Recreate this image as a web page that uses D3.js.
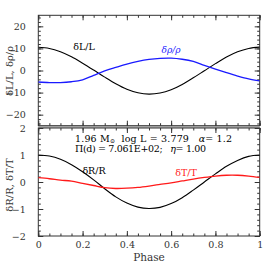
<!DOCTYPE html>
<html><head><meta charset="utf-8">
<script src="https://cdn.jsdelivr.net/npm/d3@7"></script>
<style>
html,body{margin:0;padding:0;background:#fff;}
svg text{font-family:"DejaVu Serif","Liberation Serif",serif;}
</style></head>
<body><div id="chart"></div>
<script>
// ---- data ----
const phase = [0,0.05,0.1,0.15,0.2,0.25,0.3,0.35,0.4,0.45,0.5,0.55,0.6,0.65,0.7,0.75,0.8,0.85,0.9,0.95,1];
const dL  = [10.5,10.0,8.5,6.2,3.3,0.2,-3.0,-6.0,-8.5,-10.1,-10.7,-10.2,-8.7,-6.3,-3.3,-0.1,3.1,6.1,8.5,10.0,10.6];
const dRho= [-5.2,-5.45,-5.5,-5.1,-4.2,-2.2,-0.2,1.4,2.9,4.1,5.0,5.5,5.6,5.1,4.1,2.3,0.6,-1.0,-2.5,-3.8,-4.7];
const dR  = [1.0,0.96,0.84,0.64,0.38,0.08,-0.25,-0.55,-0.78,-0.93,-0.98,-0.94,-0.8,-0.58,-0.3,0.0,0.3,0.58,0.8,0.95,1.0];
const dT  = [0.16,0.12,0.07,0.03,-0.05,-0.13,-0.21,-0.24,-0.23,-0.2,-0.15,-0.09,-0.03,0.04,0.11,0.17,0.22,0.25,0.25,0.22,0.17];
const xTicks = [0,0.2,0.4,0.6,0.8,1];
const xTickLabels = ["0","0.2","0.4","0.6","0.8","1"];
const topTicks = [-20,-10,0,10,20];
const botTicks = [-2,-1,0,1,2];
const infoLine1 = ["1.96 M","⊙","  log L = 3.779   ","α","= 1.2"];
const infoLine2 = ["Π(d) = 7.061E+02;   ","η","= 1.00"];

const W=274,H=274;
const svg=d3.select("#chart").append("svg").attr("width",W).attr("height",H);
const x=d3.scaleLinear().domain([0,1]).range([38.3,259.7]);
const yT=d3.scaleLinear().domain([-25,25]).range([125.7,15.3]);
const yB=d3.scaleLinear().domain([-2,2]).range([236,128]);
const axisColor="#333";
const FS=9.5;

function panel(y, major, minor, showXLabels, id){
  const g=svg.append("g");
  const [y1,y0]=y.range();
  svg.append("clipPath").attr("id",id).append("rect")
    .attr("x",x.range()[0]).attr("y",y0).attr("width",x.range()[1]-x.range()[0]).attr("height",y1-y0);
  const xMinor=d3.range(0,1.0001,0.05);
  const mk=(axis,scale,vals,size,tx,ty,labels)=>{
    const a=axis(scale).tickValues(vals).tickSize(size);
    if(labels){a.tickFormat((d,i)=>labels(d,i)).tickPadding(labels.pad);} else a.tickFormat("");
    const gg=g.append("g").attr("transform",`translate(${tx},${ty})`).call(a);
    gg.select(".domain").remove();
    gg.selectAll("line").attr("stroke",axisColor);
    return gg;
  };
  const x0=x.range()[0], x1=x.range()[1];
  mk(d3.axisBottom,x,xMinor,-2.5,0,y1);
  mk(d3.axisTop,x,xMinor,-2.5,0,y0);
  mk(d3.axisBottom,x,xTicks,-5,0,y1);
  mk(d3.axisTop,x,xTicks,-5,0,y0);
  mk(d3.axisLeft,y,minor,-2.5,x0,0);
  mk(d3.axisRight,y,minor,-2.5,x1,0);
  const lf=v=>v<0?"\u2212"+Math.abs(v):String(v); lf.pad=12.5;
  const gl=mk(d3.axisLeft,y,major,-5,x0,0,lf);
  gl.selectAll("text").attr("font-size",FS).attr("fill","#333").attr("font-family","DejaVu Serif, serif");
  mk(d3.axisRight,y,major,-5,x1,0);
  if(showXLabels){
    const xf=(d,i)=>xTickLabels[xTicks.indexOf(d)]; xf.pad=5;
    const gx=mk(d3.axisBottom,x,xTicks,0,0,y1,xf);
    gx.selectAll("line").remove();
    gx.selectAll("text").attr("font-size",FS).attr("fill","#333").attr("font-family","DejaVu Serif, serif");
  }
  g.append("rect").attr("x",x0).attr("y",y0).attr("width",x1-x0).attr("height",y1-y0)
    .attr("fill","none").attr("stroke",axisColor).attr("stroke-width",1);
  return g;
}
const minorTop=d3.range(-24,25,2);
const minorBot=d3.range(-2,2.001,0.2).map(v=>+v.toFixed(1));
svg.append("rect").attr("x",38.3).attr("y",125.7).attr("width",221.4).attr("height",2.3).attr("fill","#bbb");
panel(yT,topTicks,minorTop,false,"clipT");
panel(yB,botTicks,minorBot,true,"clipB");

function drawLine(ys,yScale,color,width,clip){
  const line=d3.line().x((d,i)=>x(phase[i])).y(d=>yScale(d)).curve(d3.curveCatmullRom.alpha(0.5));
  svg.append("path").datum(ys).attr("d",line).attr("fill","none")
    .attr("stroke",color).attr("stroke-width",width).attr("clip-path",`url(#${clip})`);
}
drawLine(dL,yT,"#000",1.1,"clipT");
drawLine(dRho,yT,"#1a1aff",1.3,"clipT");
drawLine(dR,yB,"#000",1.1,"clipB");
drawLine(dT,yB,"#ff1a1a",1.3,"clipB");

// curve labels
svg.append("text").attr("x",84).attr("y",50).attr("text-anchor","middle").attr("font-size",FS).text("δL/L");
svg.append("text").attr("x",171).attr("y",53).attr("text-anchor","middle")
  .attr("fill","#1a1aff").attr("font-style","italic").attr("font-family","DejaVu Sans, sans-serif").attr("font-size",9).text("δρ/ρ");
svg.append("text").attr("x",94).attr("y",174).attr("text-anchor","middle").attr("font-size",FS).text("δR/R");
svg.append("text").attr("x",186).attr("y",176).attr("text-anchor","middle").attr("font-size",FS).attr("fill","#ff1a1a").text("δT/T");

// info text
const t1=svg.append("text").attr("x",75).attr("y",141.5).attr("font-size",FS).style("white-space","pre")
  .attr("textLength",157).attr("lengthAdjust","spacing");
t1.append("tspan").text(infoLine1[0]);
t1.append("tspan").attr("font-size",6).attr("dy",1.5).text(infoLine1[1]);
t1.append("tspan").attr("dy",-1.5).text(infoLine1[2]);
t1.append("tspan").attr("font-style","italic").text(infoLine1[3]);
t1.append("tspan").text(infoLine1[4]);
const t2=svg.append("text").attr("x",75).attr("y",152).attr("font-size",FS).style("white-space","pre")
  .attr("textLength",131).attr("lengthAdjust","spacing");
t2.append("tspan").text(infoLine2[0]);
t2.append("tspan").attr("font-style","italic").text(infoLine2[1]);
t2.append("tspan").text(infoLine2[2]);

// axis titles
svg.append("text").attr("transform","translate(13,71) rotate(-90)").attr("text-anchor","middle").attr("font-size",10).attr("fill","#333").text("δL/L, δρ/ρ");
svg.append("text").attr("transform","translate(13,185) rotate(-90)").attr("text-anchor","middle").attr("font-size",10).attr("fill","#333").text("δR/R, δT/T");
svg.append("text").attr("x",149).attr("y",261).attr("text-anchor","middle").attr("font-size",10.5).attr("fill","#333").text("Phase");
</script></body></html>
